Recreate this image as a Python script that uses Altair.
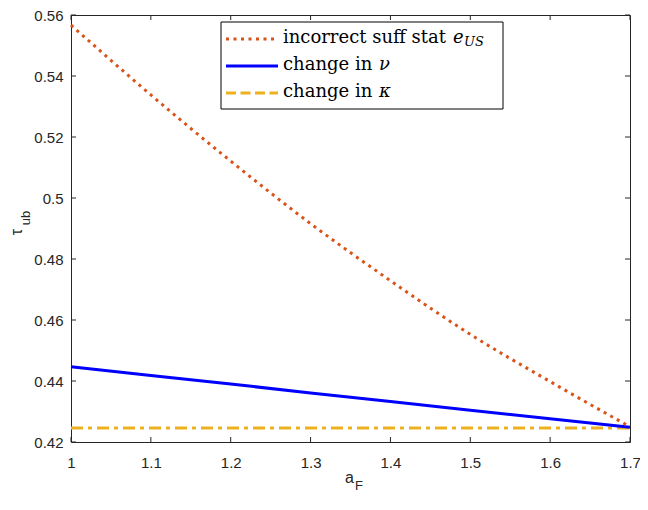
import altair as alt
import pandas as pd

# ---- data ----
a_F = [1.0, 1.1, 1.2, 1.3, 1.4, 1.5, 1.6, 1.7]
tau_incorrect = [0.5567, 0.5338, 0.5121, 0.4916, 0.4729, 0.4553, 0.4398, 0.4250]
tau_nu = [0.4447, 0.4418, 0.4390, 0.4361, 0.4333, 0.4304, 0.4276, 0.4248]
tau_kappa = [0.4246, 0.4246, 0.4246, 0.4246, 0.4246, 0.4246, 0.4246, 0.4246]
x_ticks = [1.0, 1.1, 1.2, 1.3, 1.4, 1.5, 1.6, 1.7]
y_ticks = [0.42, 0.44, 0.46, 0.48, 0.50, 0.52, 0.54, 0.56]

RED = "#D95319"
BLUE = "#0000FF"
ORANGE = "#EDB120"
AX = "#262626"
W, H = 559, 427

df = pd.DataFrame({"a": a_F, "inc": tau_incorrect, "nu": tau_nu, "kap": tau_kappa})
xt = pd.DataFrame({"a": x_ticks})
yt = pd.DataFrame({"v": y_ticks})
one = pd.DataFrame({"k": [0]})

xs = alt.Scale(domain=[1.0, 1.7], nice=False, zero=False)
ys = alt.Scale(domain=[0.42, 0.56], nice=False, zero=False)

xaxis = alt.Axis(values=x_ticks, format="~g", ticks=False, domain=False, grid=False,
                 title=None, labelFont="Liberation Sans", labelFontSize=15,
                 labelColor=AX, labelPadding=13, labelFlush=False)
yaxis = alt.Axis(values=y_ticks, format="~g", ticks=False, domain=False, grid=False,
                 title=None, labelFont="Liberation Sans", labelFontSize=15,
                 labelColor=AX, labelPadding=8)

X = alt.X("a:Q", scale=xs, axis=xaxis)
def Y(f):
    return alt.Y(f"{f}:Q", scale=ys, axis=yaxis)

base = alt.Chart(df)

kappa = base.mark_line(color=ORANGE, strokeWidth=3, strokeDash=[12, 5, 4, 5]).encode(x=X, y=Y("kap"))
nu = base.mark_line(color=BLUE, strokeWidth=3).encode(x=X, y=Y("nu"))
inc = base.mark_line(color=RED, strokeWidth=3, strokeDash=[3, 4.5], interpolate="monotone").encode(x=X, y=Y("inc"))

# inward ticks (MATLAB style) on all four sides
tk = dict(color=AX, strokeWidth=1)
yl = alt.Chart(yt).mark_rule(**tk).encode(y=Y("v"), x=alt.value(0), x2=alt.value(5))
yr = alt.Chart(yt).mark_rule(**tk).encode(y=Y("v"), x=alt.value(W - 5), x2=alt.value(W))
xb = alt.Chart(xt).mark_rule(**tk).encode(x=X, y=alt.value(H - 5), y2=alt.value(H))
xtp = alt.Chart(xt).mark_rule(**tk).encode(x=X, y=alt.value(0), y2=alt.value(5))

# legend
LX = 150
box = alt.Chart(one).mark_rect(fill="white", stroke="black", strokeWidth=1).encode(
    x=alt.value(LX), x2=alt.value(LX + 282), y=alt.value(7), y2=alt.value(94))
s1 = alt.Chart(one).mark_rule(color=RED, strokeWidth=3, strokeDash=[3, 4.5]).encode(
    x=alt.value(LX + 5), x2=alt.value(LX + 57), y=alt.value(24))
s2 = alt.Chart(one).mark_rule(color=BLUE, strokeWidth=3).encode(
    x=alt.value(LX + 5), x2=alt.value(LX + 57), y=alt.value(51))
s3 = alt.Chart(one).mark_rule(color=ORANGE, strokeWidth=3, strokeDash=[10, 4.5]).encode(
    x=alt.value(LX + 5), x2=alt.value(LX + 57), y=alt.value(78))

LF = "DejaVu Serif"
def txt(s, x, y, size=18, style="normal", font=LF, angle=0, align="left", color="black"):
    return alt.Chart(one).mark_text(text=s, font=font, fontSize=size, fontStyle=style,
                                    align=align, baseline="alphabetic", angle=angle,
                                    color=color).encode(x=alt.value(x), y=alt.value(y))

t1 = txt("incorrect suff stat", LX + 62, 28)
t1e = txt("e", LX + 232, 28, style="italic")
t1s = txt("US", LX + 243, 31, size=13, style="italic")
t2 = txt("change in", LX + 62, 55)
t2n = txt("ν", LX + 158, 55, style="italic")
t3 = txt("change in", LX + 62, 82)
t3k = txt("κ", LX + 158, 82, style="italic")

# axis titles
SF = "Liberation Sans"
yt1 = txt("τ", -49, 217, size=16, font=SF, angle=270, align="center", color=AX)
yt2 = txt("ub", -41, 203, size=13, font=SF, angle=270, align="center", color=AX)
xt1 = txt("a", 274, 468, size=16, font=SF, color=AX)
xt2 = txt("F", 284, 475, size=13, font=SF, color=AX)

chart = alt.layer(
    kappa, nu, inc, yl, yr, xb, xtp,
    box, s1, s2, s3, t1, t1e, t1s, t2, t2n, t3, t3k,
    yt1, yt2, xt1, xt2,
).properties(
    width=W, height=H,
    autosize=alt.AutoSizeParams(type="none"),
    padding={"left": 63, "top": 7, "right": 10, "bottom": 52},
).configure_view(stroke=AX, strokeWidth=1)

chart.save("out.html", embed_options={"renderer": "svg", "actions": False})
